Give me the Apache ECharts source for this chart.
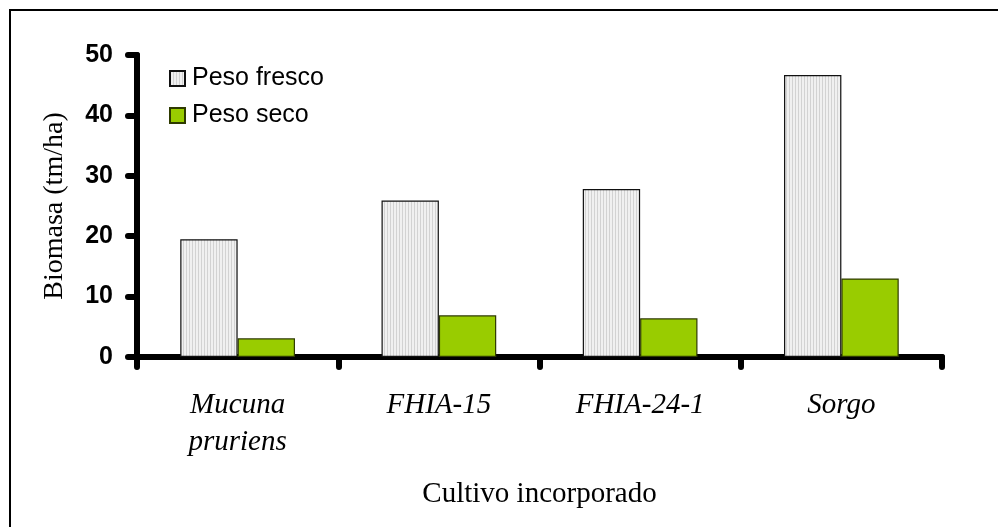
<!DOCTYPE html>
<html>
<head>
<meta charset="utf-8">
<script src="https://cdn.jsdelivr.net/npm/echarts@6/dist/echarts.min.js"></script>
<style>html,body{margin:0;padding:0;background:#fff;}#c{width:998px;height:527px;}</style>
</head>
<body>
<div id="c"></div>
<script>
const categories = ['Mucuna\npruriens', 'FHIA-15', 'FHIA-24-1', 'Sorgo'];
const pesoFresco = [19.5, 25.9, 27.8, 46.7];
const pesoSeco = [3.1, 6.9, 6.4, 13.0];
const yTicks = [0, 10, 20, 30, 40, 50];
const seriesNames = ['Peso fresco', 'Peso seco'];

// striped fill for "Peso fresco"
const pc = document.createElement('canvas');
pc.width = 3; pc.height = 4;
const pctx = pc.getContext('2d');
pctx.fillStyle = '#f0f0f0'; pctx.fillRect(0, 0, 3, 4);
pctx.fillStyle = '#d2d2d2'; pctx.fillRect(0, 0, 1, 4);

const chart = echarts.init(document.getElementById('c'), null, {renderer: 'canvas'});
chart.setOption({
  animation: false,
  backgroundColor: '#fff',
  graphic: [{
    type: 'rect', silent: true, z: 100,
    shape: {x: 10, y: 10, width: 1100, height: 1100},
    style: {fill: 'none', stroke: '#000', lineWidth: 2}
  }],
  grid: {left: 137, right: 56, top: 55, bottom: 170, containLabel: false},
  legend: {
    orient: 'vertical', left: 164, top: 61, icon: 'rect',
    itemWidth: 15, itemHeight: 15, itemGap: 12,
    textStyle: {fontFamily: 'Liberation Sans, Arial', fontSize: 25, color: '#000', lineHeight: 25, padding: [0, 0, 0, 2]},
    data: seriesNames
  },
  xAxis: {
    type: 'category', data: categories,
    name: 'Cultivo incorporado', nameLocation: 'middle', nameGap: 123,
    nameTextStyle: {fontFamily: 'Liberation Serif, Times New Roman', fontSize: 29, color: '#000'},
    axisLine: {lineStyle: {color: '#000', width: 6, cap: 'round'}},
    axisTick: {show: true, alignWithLabel: false, length: 10, lineStyle: {color: '#000', width: 6, cap: 'round'}},
    axisLabel: {fontFamily: 'Liberation Serif, Times New Roman', fontStyle: 'italic', fontSize: 29, color: '#000', margin: 30, lineHeight: 37, interval: 0}
  },
  yAxis: {
    type: 'value', min: yTicks[0], max: yTicks[yTicks.length - 1], interval: 10,
    name: 'Biomasa (tm/ha)', nameLocation: 'middle', nameGap: 68,
    nameTextStyle: {fontFamily: 'Liberation Serif, Times New Roman', fontSize: 28, color: '#000'},
    splitLine: {show: false},
    axisLine: {show: true, lineStyle: {color: '#000', width: 6, cap: 'round'}},
    axisTick: {show: true, length: 9, lineStyle: {color: '#000', width: 6, cap: 'round'}},
    axisLabel: {fontFamily: 'Liberation Sans, Arial', fontWeight: 'bold', fontSize: 25, color: '#000', margin: 24}
  },
  series: [
    {
      name: seriesNames[0], type: 'bar', data: pesoFresco,
      barGap: '0%', barCategoryGap: '43%',
      itemStyle: {color: {image: pc, repeat: 'repeat'}, borderColor: '#111', borderWidth: 1.2}
    },
    {
      name: seriesNames[1], type: 'bar', data: pesoSeco,
      itemStyle: {color: '#99cc00', borderColor: '#2e3a00', borderWidth: 1.2}
    }
  ]
});
</script>
</body>
</html>
